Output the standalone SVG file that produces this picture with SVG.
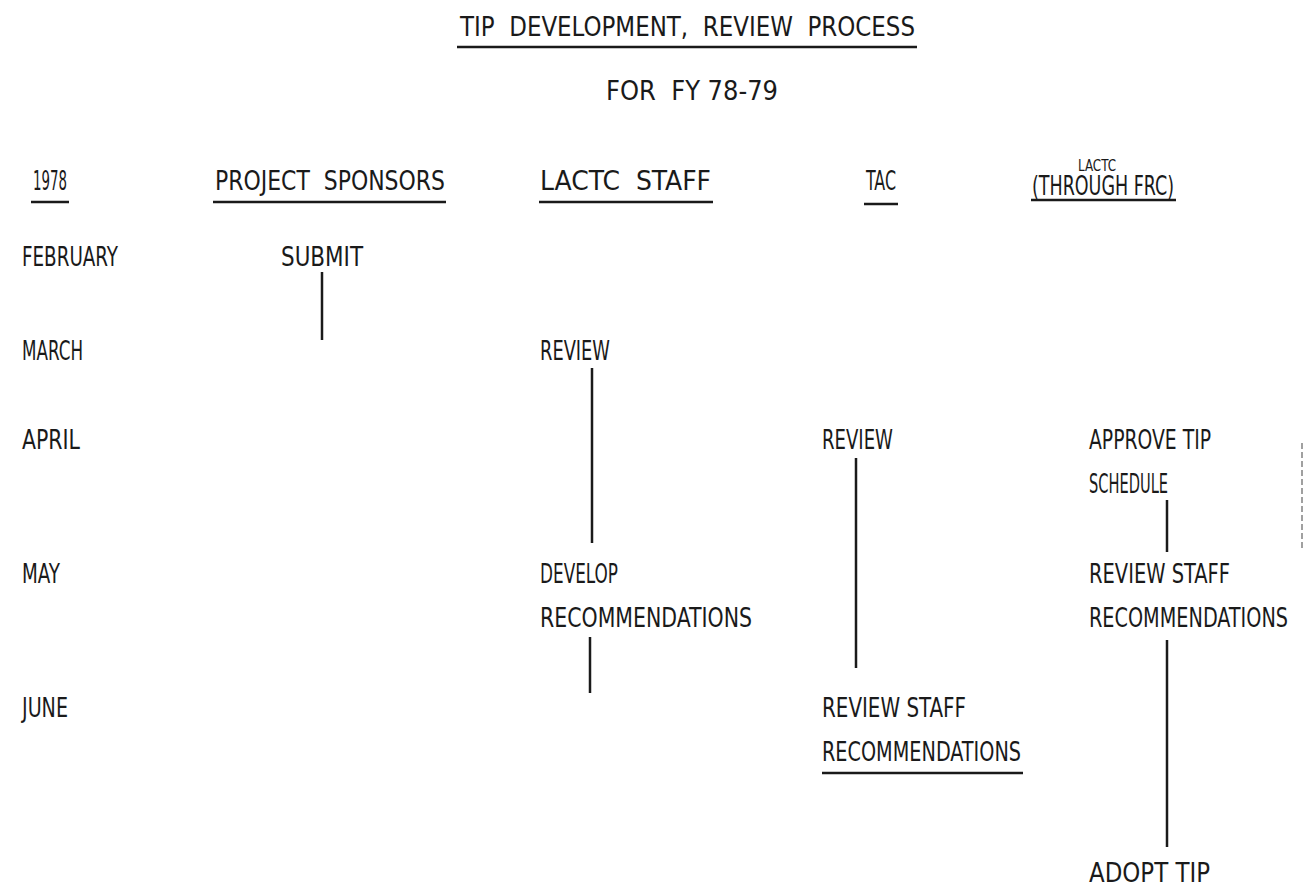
<svg xmlns="http://www.w3.org/2000/svg" width="1308" height="885" viewBox="0 0 1308 885">
<style>
text{font-family:"DejaVu Sans Condensed","Liberation Sans",sans-serif;font-size:27px;fill:#1a1a1a}
.sm{font-size:16px}
.ul{stroke:#1a1a1a;stroke-width:2.5;fill:none}
.ln{stroke:#1a1a1a;stroke-width:2.5;fill:none}
</style>
<rect width="1308" height="885" fill="#ffffff"/>
<g id="title">
<text x="460" y="36" textLength="455" lengthAdjust="spacingAndGlyphs" xml:space="preserve">TIP  DEVELOPMENT,  REVIEW  PROCESS</text>
<line class="ul" x1="457" y1="47" x2="917" y2="47"/>
<text x="606" y="100" textLength="172" lengthAdjust="spacingAndGlyphs" xml:space="preserve">FOR  FY 78-79</text>
</g>
<g id="headers">
<text x="33" y="190" textLength="34" lengthAdjust="spacingAndGlyphs">1978</text>
<line class="ul" x1="31" y1="202" x2="69" y2="202"/>
<text x="215" y="190" textLength="230" lengthAdjust="spacingAndGlyphs" xml:space="preserve">PROJECT  SPONSORS</text>
<line class="ul" x1="213" y1="202" x2="446" y2="202"/>
<text x="540" y="190" textLength="171" lengthAdjust="spacingAndGlyphs" xml:space="preserve">LACTC  STAFF</text>
<line class="ul" x1="539" y1="202" x2="713" y2="202"/>
<text x="866" y="190" textLength="30" lengthAdjust="spacingAndGlyphs">TAC</text>
<line class="ul" x1="864" y1="204" x2="898" y2="204"/>
<text class="sm" x="1078" y="171" textLength="38" lengthAdjust="spacingAndGlyphs">LACTC</text>
<text x="1032" y="195" textLength="142" lengthAdjust="spacingAndGlyphs">(THROUGH FRC)</text>
<line class="ul" x1="1031" y1="200" x2="1176" y2="200"/>
</g>
<g id="months">
<text x="22" y="266" textLength="96" lengthAdjust="spacingAndGlyphs">FEBRUARY</text>
<text x="22" y="360" textLength="61" lengthAdjust="spacingAndGlyphs">MARCH</text>
<text x="22" y="449" textLength="58" lengthAdjust="spacingAndGlyphs">APRIL</text>
<text x="22" y="583" textLength="38" lengthAdjust="spacingAndGlyphs">MAY</text>
<text x="22" y="717" textLength="46" lengthAdjust="spacingAndGlyphs">JUNE</text>
</g>
<g id="submit">
<text x="281" y="266" textLength="82" lengthAdjust="spacingAndGlyphs">SUBMIT</text>
</g>
<g id="staff-review">
<text x="540" y="360" textLength="70" lengthAdjust="spacingAndGlyphs">REVIEW</text>
</g>
<g id="staff-develop">
<text x="540" y="583" textLength="78" lengthAdjust="spacingAndGlyphs">DEVELOP</text>
<text x="540" y="627" textLength="212" lengthAdjust="spacingAndGlyphs">RECOMMENDATIONS</text>
</g>
<g id="tac-review">
<text x="822" y="449" textLength="71" lengthAdjust="spacingAndGlyphs">REVIEW</text>
</g>
<g id="tac-review-staff">
<text x="822" y="717" textLength="144" lengthAdjust="spacingAndGlyphs">REVIEW STAFF</text>
<text x="822" y="761" textLength="199" lengthAdjust="spacingAndGlyphs">RECOMMENDATIONS</text>
<line class="ul" x1="822" y1="773" x2="1023" y2="773"/>
</g>
<g id="lactc-approve">
<text x="1089" y="449" textLength="122" lengthAdjust="spacingAndGlyphs">APPROVE TIP</text>
<text x="1089" y="493" textLength="79" lengthAdjust="spacingAndGlyphs">SCHEDULE</text>
</g>
<g id="lactc-review-staff">
<text x="1089" y="583" textLength="141" lengthAdjust="spacingAndGlyphs">REVIEW STAFF</text>
<text x="1089" y="627" textLength="199" lengthAdjust="spacingAndGlyphs">RECOMMENDATIONS</text>
</g>
<g id="lactc-adopt">
<text x="1089" y="882" textLength="121" lengthAdjust="spacingAndGlyphs">ADOPT TIP</text>
</g>
<g id="connectors">
<line class="ln" x1="322" y1="272" x2="322" y2="340"/>
<line class="ln" x1="592" y1="368" x2="592" y2="543"/>
<line class="ln" x1="590" y1="637" x2="590" y2="693"/>
<line class="ln" x1="856" y1="458" x2="856" y2="668"/>
<line class="ln" x1="1167" y1="500" x2="1167" y2="552"/>
<line class="ln" x1="1167" y1="640" x2="1167" y2="847"/>
</g>
<line x1="1302" y1="443" x2="1302" y2="550" stroke="#a0a0a0" stroke-width="2" stroke-dasharray="6 3"/>
</svg>
